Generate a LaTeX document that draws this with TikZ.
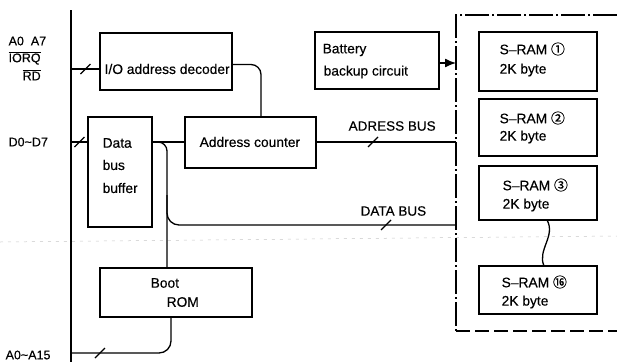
\documentclass[tikz,border=0pt]{standalone}
\usepackage{fontspec}
\setmainfont{Liberation Sans}[FakeBold=0.35]
\newfontfamily\circfont{Noto Sans CJK SC}[FakeBold=0.8]
\usetikzlibrary{arrows.meta,calc}
\newcommand\busslash[1]{\draw[slashmark] (#1) ++(-5,5) -- ++(10,-10);}
\begin{document}
\begin{tikzpicture}[x=1pt,y=-1pt,
  line width=1.3pt,
  blk/.style 2 args={draw, line width=1.3pt, minimum width=#1pt, minimum height=#2pt, inner sep=0pt},
  txt/.style={anchor=west, inner sep=0pt, font=\fontsize{13.8}{15}\selectfont},
  lbl/.style={anchor=west, inner sep=0pt, font=\fontsize{12.5}{14}\selectfont},
  buslbl/.style={anchor=west, inner sep=0pt, font=\fontsize{13.5}{15}\selectfont},
  slashmark/.style={line width=1.3pt},
  frameline/.style={line width=1.2pt, dash pattern=on 24pt off 3pt on 2pt off 3pt},
  framebottom/.style={line width=1.2pt, dash pattern=on 14pt off 5pt},
]
\useasboundingbox (0,0) rectangle (617,362);

% faint crease across the sheet
\draw[gray!45, line width=0.5pt, dash pattern=on 3pt off 5pt] (0,242) -- (617,236);

% function blocks
\node[blk={132}{57}] (dec) at (166,61.5) {};
\node[blk={124}{57}] (bat) at (377,60.5) {};
\node[blk={64}{110}] (buf) at (120,172) {};
\node[blk={131}{51}] (cnt) at (250.5,142.5) {};
\node[blk={152}{49}] (rom) at (176,292.5) {};
\node[blk={118}{59}] (s1) at (538,61.5) {};
\node[blk={118}{57}] (s2) at (538,127.5) {};
\node[blk={118}{54}] (s3) at (538,193) {};
\node[blk={118}{48}] (s16) at (538,290) {};

% block texts
\node[txt] (tdec) at (104,69) {I/O address decoder};
\node[txt] (tbat1) at (322,50) {Battery};
\node[txt] (tbat2) at (323,72) {backup circuit};
\node[txt] (tcnt) at (199,142) {Address counter};
\node[txt] (tbuf1) at (102,143) {Data};
\node[txt] (tbuf2) at (102,165) {bus};
\node[txt] (tbuf3) at (102,188) {buffer};
\node[txt] (trom1) at (150,283) {Boot};
\node[txt] (trom2) at (166,302) {ROM};
\node[txt] (ts1a) at (499,49) {S–RAM {\circfont ①}};
\node[txt] (ts1b) at (499,70) {2K byte};
\node[txt] (ts2a) at (499,118) {S–RAM {\circfont ②}};
\node[txt] (ts2b) at (499,137) {2K byte};
\node[txt] (ts3a) at (502,185) {S–RAM {\circfont ③}};
\node[txt] (ts3b) at (502,205) {2K byte};
\node[txt] (ts16a) at (501,282) {S–RAM {\circfont ⑯}};
\node[txt] (ts16b) at (501,302) {2K byte};

% bus labels
\node[buslbl] (ladr) at (348,126) {ADRESS BUS};
\node[buslbl] (ldat) at (360,211) {DATA BUS};

% signal names on the left
\node[lbl] (la07) at (8,41) {A0\ \ A7};
\node[lbl] (liorq) at (8,58) {$\overline{\hbox{IORQ}}$};
\node[lbl] (lrd) at (22,75) {$\overline{\hbox{RD}}$};
\node[lbl] (ld07) at (8,142) {D0\textasciitilde D7};
\node[lbl] (la015) at (5,355) {A0\textasciitilde A15};

% CPU bus line
\coordinate (bt) at (71,10);
\coordinate (bb) at (71,362);
\draw (bt) -- (bb);

% memory board frame
\coordinate (ftr) at (617,15);
\coordinate (ftl) at (456,15);
\coordinate (fbl) at (456,331);
\coordinate (fbr) at (617,331);
\draw[frameline] (ftr) -- (ftl) -- (fbl);
\draw[framebottom] (fbl) -- (fbr);

% I/O decoder input
\coordinate (pio) at (71,69);
\draw (pio) -- (pio -| dec.west);
\busslash{85.5,69}

% decoder to address counter
\coordinate (ctop) at (261,117);
\draw[rounded corners=10] ([yshift=-3pt]dec.east) -| (ctop);

% data lines into the buffer
\coordinate (pd) at (71,142);
\draw (pd) -- (pd -| buf.west);
\busslash{79.5,142}

% buffer to address counter
\coordinate (bo) at (152,142);
\draw (bo) -- (bo -| cnt.west);

% address bus
\coordinate (fa) at (456,142);
\draw (cnt.east |- fa) -- (fa);
\busslash{373,142}

% data bus and boot ROM feed
\coordinate (rt) at (167,268);
\draw[rounded corners=9] (bo) -| (rt);
\coordinate (dj) at (167,195);
\coordinate (fd) at (456,225);
\draw[rounded corners=12] (dj) |- (fd);
\busslash{386,225}

% boot ROM address lines
\coordinate (rb) at (171,317);
\coordinate (pa) at (71,353);
\draw[rounded corners=12] (rb) |- (pa);
\busslash{100,353}

% battery supply
\coordinate (fb) at (456,63);
\draw[-{Latex[length=11pt,width=9pt]}] (bat.east |- fb) -- (fb);

% break between S-RAM 3 and S-RAM 16
\coordinate (w1) at (547,220);
\coordinate (w2) at (544,266);
\draw (w1) .. controls (556,236) and (537,250) .. (w2);
\end{tikzpicture}
\end{document}
